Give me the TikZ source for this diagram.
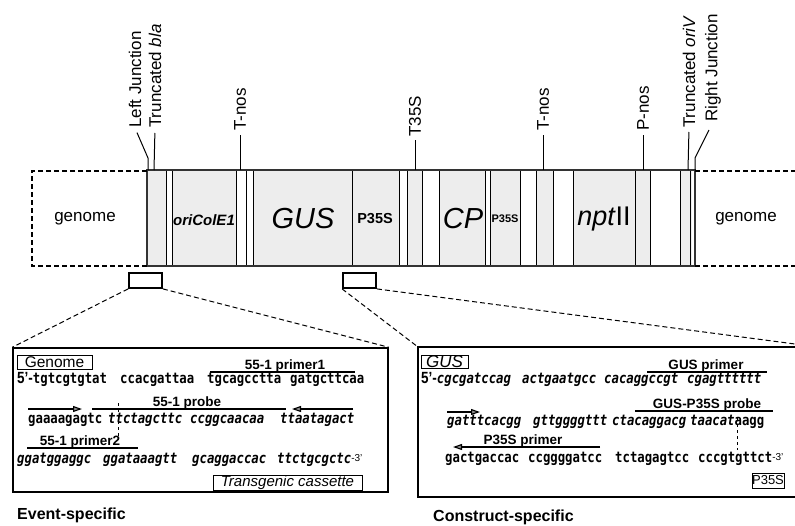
\documentclass[tikz,border=0pt]{standalone}
\usepackage{fontspec}
\usepackage{graphicx}
\setmainfont{Liberation Sans}
\newfontfamily\seqfont{DejaVu Sans Mono}
\usetikzlibrary{arrows.meta}
\newcommand\fs[1]{\fontsize{#1}{#1}\selectfont}
\newcommand\sq[1]{\scalebox{1}[1.2]{#1}}
\newcommand\fivep{{\rmfamily\upshape\fs{13.5}5'-}}
\begin{document}
\begin{tikzpicture}[x=1pt,y=-1pt,
  vlab/.style={rotate=90, anchor=west, inner sep=0pt, font=\fs{17}},
  blab/.style={font=\itshape\fs{29}},
  seq/.style={anchor=base west, inner sep=0pt, font=\seqfont\bfseries\fs{12.3}},
  seqi/.style={anchor=base west, inner sep=0pt, font=\seqfont\bfseries\itshape\fs{12.3}},
  plab/.style={anchor=base, inner sep=0pt, font=\bfseries\fs{13.5}},
  tagbox/.style={draw, line width=1pt, inner sep=0pt},
  leader/.style={line width=1pt},
  cell/.style={draw, line width=0.9pt},
  dashline/.style={dash pattern=on 5pt off 3pt, line width=1.2pt},
  arr/.style={line width=1.1pt, -{Triangle[length=9pt,width=6pt,fill=black!45]}},
  probe/.style={line width=2.4pt},
  primer/.style={line width=1.2pt},
  marker/.style={line width=0.9pt, dash pattern=on 3pt off 3pt},
  sbox/.style={draw, line width=1.8pt, minimum width=33pt, minimum height=15pt, inner sep=0pt, fill=white},
  caption/.style={anchor=base west, inner sep=0pt, font=\bfseries\fs{16}}
]
\useasboundingbox (0,0) rectangle (795,525);

% ---------- band ----------
\foreach \a/\b in {147/166,172/236,253/352,352/399,407/422,439/485,490/520,536/553,573/635,635/650,680/692}
  \fill[black!7] (\a,170) rectangle (\b,266);
\foreach \x in {166,172,236,246,253,352,399,407,422,439,485,490,520,536,553,573,635,650,680,690}
  \draw[cell] (\x,170) -- (\x,266);
\draw[line width=2.6pt, black!80] (147,170) rectangle (695,266);
\draw[dashline] (147,171) -- (32,171) -- (32,266) -- (147,266);
\draw[dashline] (695,171) -- (795,171);
\draw[dashline] (695,266) -- (795,266);

\node[font=\fs{17}] (g1) at (85,219) {genome};
\node[font=\bfseries\itshape\fs{15}] (ori) at (204,220) {oriColE1};
\node[blab] (gus) at (303,219) {GUS};
\node[font=\bfseries\fs{14.5}] (p35a) at (375,219) {P35S};
\node[blab] (cp) at (463,219) {CP};
\node[font=\bfseries\fs{11}] (p35b) at (505,219) {P35S};
\node[font=\fs{27}] (npt) at (604,219) {\textit{npt}II};
\node[font=\fs{17}] (g2) at (746,219) {genome};

% ---------- top labels ----------
\node[vlab] (lj) at (135,128) {Left Junction};
\node[vlab] (tb) at (155,128) {Truncated \textit{bla}};
\node[vlab] (tn1) at (240,131) {T-nos};
\node[vlab] (t35) at (415,137) {T35S};
\node[vlab] (tn2) at (543,131) {T-nos};
\node[vlab] (pn) at (643,131) {P-nos};
\node[vlab] (to) at (689,128) {Truncated \textit{oriV}};
\node[vlab] (rj) at (713,122) {Right Junction};

\coordinate (ljk) at (148,158); \coordinate (ljb) at (148,170);
\coordinate (tbb) at (154,170);
\coordinate (tn1b) at (240,170);
\coordinate (t35b) at (415,170);
\coordinate (tn2b) at (543,170);
\coordinate (pnb) at (643,170);
\coordinate (tob) at (688,170);
\coordinate (rjk) at (695,158); \coordinate (rjb) at (695,170);

\draw[leader, shorten <=5pt] (lj.west) -- (ljk) -- (ljb);
\draw[leader, shorten <=5pt] (tb.west) -- (tbb);
\draw[leader, shorten <=4pt] (tn1.west) -- (tn1b);
\draw[leader, shorten <=3pt] (t35.west) -- (t35b);
\draw[leader, shorten <=4pt] (tn2.west) -- (tn2b);
\draw[leader, shorten <=4pt] (pn.west) -- (pnb);
\draw[leader, shorten <=4pt] (to.west) -- (tob);
\draw[leader, shorten <=9pt] (rj.west) -- (rjk) -- (rjb);

% ---------- zoom boxes ----------
\node[sbox] (sbl) at (145.5,280.5) {};
\node[sbox] (sbr) at (359.5,280.5) {};
\node[draw, line width=1.5pt, minimum width=375pt, minimum height=144pt, inner sep=0pt] (bigl) at (200.5,420) {};
\coordinate (brnw) at (418,347);
\coordinate (brsw) at (418,497);
\coordinate (brne) at (795,347);
\coordinate (brse) at (795,497);
\coordinate (brfar) at (795,344);
\draw[line width=1.5pt] (brne) -- (brnw) -- (brsw) -- (brse);

\draw[dashline, line width=1pt] (sbl.south west) -- (bigl.north west);
\draw[dashline, line width=1pt] (sbl.south east) -- (bigl.north east);
\draw[dashline, line width=1pt] (sbr.south west) -- (brnw);
\draw[dashline, line width=1pt] (sbr.south east) -- (brfar);

% ---------- event-specific box ----------
\node[tagbox, font=\fs{15.5}, minimum width=75pt, minimum height=14pt] (tgen) at (54.5,362) {Genome};
\node[plab] (p1) at (285,369) {55-1 primer1};
\coordinate (p1a) at (210,372); \coordinate (p1b) at (355,372);
\draw[primer] (p1a) -- (p1b);
\node[seq] (s11) at (17,383) {\sq{\fivep tgtcgtgtat}};
\node[seq] (s12) at (120,383) {\sq{ccacgattaa}};
\node[seq] (s13) at (207,383) {\sq{tgcagcctta}};
\node[seq] (s14) at (290,383) {\sq{gatgcttcaa}};

\coordinate (a1s) at (28,409); \coordinate (a1e) at (82,409);
\draw[arr] (a1s) -- (a1e);
\node[plab] (pr1) at (187,406) {55-1 probe};
\coordinate (pb1a) at (92,409); \coordinate (pb1b) at (286,409);
\draw[probe] (pb1a) -- (pb1b);
\coordinate (a2s) at (353,409); \coordinate (a2e) at (292,409);
\draw[arr] (a2s) -- (a2e);
\coordinate (dm1a) at (118,403); \coordinate (dm1b) at (118,440);
\draw[marker] (dm1a) -- (dm1b);

\node[seq] (s21) at (28,423) {\sq{gaaaagagtc}};
\node[seqi] (s22) at (108,423) {\sq{ttctagcttc}};
\node[seqi] (s23) at (190,423) {\sq{ccggcaacaa}};
\node[seqi] (s24) at (280,423) {\sq{ttaatagact}};

\node[plab] (p2) at (80,445) {55-1 primer2};
\coordinate (p2a) at (27,448); \coordinate (p2b) at (138,448);
\draw[primer] (p2a) -- (p2b);
\node[seqi] (s31) at (17,463) {\sq{ggatggaggc}};
\node[seqi] (s32) at (103,463) {\sq{ggataaagtt}};
\node[seqi] (s33) at (192,463) {\sq{gcaggaccac}};
\node[seqi] (s34) at (277,463) {\sq{ttctgcgctc}\raisebox{2pt}{\upshape\mdseries\rmfamily\fs{10}-3'}};
\node[tagbox, font=\itshape\fs{15}, minimum width=149pt, minimum height=15pt] (ttc) at (287.5,482.5) {Transgenic cassette};

\node[caption] (ev) at (17,519) {Event-specific};

% ---------- construct-specific box ----------
\node[tagbox, font=\itshape\fs{17}, minimum width=47pt, minimum height=13pt] (tgus) at (444.5,361.5) {GUS};
\node[plab] (gp) at (706,369) {GUS primer};
\coordinate (gpa) at (647,372); \coordinate (gpb) at (767,372);
\draw[primer] (gpa) -- (gpb);
\node[seq] (r11) at (421,383) {\sq{\fivep\textit{cgcgatccag}}};
\node[seqi] (r12) at (522,383) {\sq{actgaatgcc}};
\node[seqi] (r13) at (604,383) {\sq{cacaggccgt}};
\node[seqi] (r14) at (687,383) {\sq{cgagtttttt}};

\coordinate (a3s) at (447,412); \coordinate (a3e) at (480,412);
\draw[arr] (a3s) -- (a3e);
\node[plab] (gpp) at (707,408) {GUS-P35S probe};
\coordinate (pb2a) at (635,411); \coordinate (pb2b) at (773,411);
\draw[probe] (pb2a) -- (pb2b);
\node[seqi] (r21) at (447,425) {\sq{gatttcacgg}};
\node[seqi] (r22) at (533,425) {\sq{gttggggttt}};
\node[seqi] (r23) at (612,425) {\sq{ctacaggacg}};
\node[seq] (r24) at (690,425) {\sq{\textit{taacat}aagg}};
\coordinate (dm2a) at (737,418); \coordinate (dm2b) at (737,450);
\draw[marker] (dm2a) -- (dm2b);

\node[plab] (pp) at (523,444) {P35S primer};
\coordinate (a4s) at (600,447); \coordinate (a4e) at (453,447);
\draw[arr] (a4s) -- (a4e);
\node[seq] (r31) at (445,462) {\sq{gactgaccac}};
\node[seq] (r32) at (528,462) {\sq{ccggggatcc}};
\node[seq] (r33) at (615,462) {\sq{tctagagtcc}};
\node[seq] (r34) at (698,462) {\sq{cccgtgttct}\raisebox{2pt}{\mdseries\rmfamily\fs{10}-3'}};
\node[tagbox, font=\fs{13}, minimum width=32pt, minimum height=15pt] (tp35) at (768,480.5) {P35S};

\node[caption] (cs) at (433,521) {Construct-specific};
\end{tikzpicture}
\end{document}
